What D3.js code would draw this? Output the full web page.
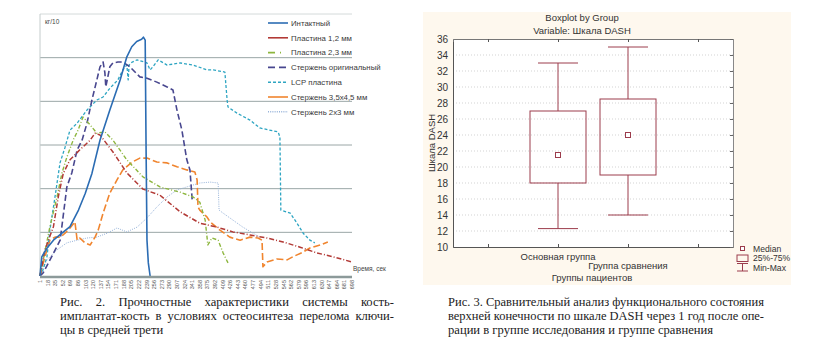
<!DOCTYPE html>
<html>
<head>
<meta charset="utf-8">
<script src="https://cdn.jsdelivr.net/npm/d3@7"></script>
<style>
  body { margin: 0; background: #fff; }
  svg { display: block; }
</style>
</head>
<body>
<div id="figure"></div>
<script>
// ---- left chart data: [time, load] ----
var intact = [[1,0],[5,4.4],[16,6.3],[31,8.2],[50,9.8],[68,11.3],[87,15.1],[102,18.9],[117,23.5],[135,31.1],[157,38],[180,44.9],[195,50.2],[206,52.5],[217,53.7],[228,54.2],[232,54.7],[236,54],[238,28.9],[240,8.2],[243,3],[247,0]];
var plate12 = [[1,0],[12,6],[31,11.3],[42,18.2],[53,23.5],[68,26.6],[90,28.9],[113,31.1],[124,32.7],[135,32.3],[164,28.4],[195,23.6],[231,19.9],[269,18.5],[314,14.7],[358,12.1],[396,11.2],[432,10.1],[470,9.4],[508,8.7],[544,7.8],[582,6.6],[619,5.3],[656,4.4],[698,3.2]];
var plate23 = [[1,0],[23,11.2],[39,18.1],[50,23.6],[61,27.2],[75,31.1],[86,33.4],[97,36.4],[113,34.6],[128,32.7],[146,33],[164,31.1],[195,26.6],[231,22.7],[269,20.4],[314,19.2],[343,18.1],[358,16.9],[370,12.8],[376,7.1],[385,8.7],[399,8.2],[410,5.3],[421,3]];
var rodOrig = [[1,0],[8,0.7],[30,5],[46,8.2],[61,20.4],[72,23.6],[84,28.9],[95,31.1],[106,35],[117,40.3],[128,44.9],[135,47.9],[142,49],[146,46.5],[148,43.3],[157,47.9],[164,48.8],[175,49],[186,49],[202,47.9],[224,45.6],[240,45.3],[262,44.4],[285,43.3],[298,42.6],[307,38],[318,33.4],[329,26.6],[336,24.3],[341,17.4]];
var lcp = [[1,0],[5.5,0.7],[16.6,4.4],[23,10.5],[34.5,18.1],[45.7,25.9],[57,29.5],[68,33.4],[84,35],[106,38],[128,40.3],[142,41],[157,43],[175,44.9],[186,47.2],[195,48.3],[198,44.9],[200,48.3],[207,49],[218,49.5],[240,48.8],[247,47.2],[253,47.9],[265,49.5],[285,48.3],[314,48.8],[343,48.3],[374,47.2],[388,47.2],[414,46.7],[419,40.3],[421,38.7],[441,37.3],[470,35.7],[492,33.9],[533,33],[537,31.8],[539,15.1],[560,14.4],[575,12.1],[589,9.8],[604,8.2],[615,7.6]];
var rod3545 = [[1,0.2],[12,4.4],[23,8.2],[34.5,8.9],[46,8.9],[57,9.8],[68,11],[79,12.4],[84,8.2],[90,8.7],[101.5,7.6],[113,7.1],[124,8.9],[131,10.5],[142,14.4],[157,19],[173,22],[186,24.3],[207,26.1],[224,27],[240,27],[262,26.1],[285,25.9],[307,25],[329,24.3],[347,23.8],[352,22],[354,15.8],[358,15.1],[374,13.5],[381,12.4],[403,10.5],[425,8.9],[448,8.2],[470,8.9],[488,8.7],[497,8.2],[499,2.1],[508,3.2],[530,3.9],[553,3.7],[566,4.4],[589,5.5],[604,6.4],[627,7.1],[644,7.8]];
var rod23 = [[1,0.2],[16.6,3.7],[39,6],[61,7.6],[84,8.2],[106,8.7],[128,8.9],[151,9.8],[173,11],[195,10.1],[218,11.2],[240,13.3],[262,15.8],[285,18.1],[307,19.7],[329,20.4],[358,21.3],[381,21.5],[399,21.3],[401,15.1],[410,14.4],[432,12.8],[454,11.2],[477,9.8],[492,8.9]];

var seriesNames = ["Интактный", "Пластина 1,2 мм", "Пластина 2,3 мм", "Стержень оригинальный", "LCP пластина", "Стержень 3,5х4,5 мм", "Стержень 2х3 мм"];
var timeTicks = [1,18,35,52,69,86,103,120,137,154,171,188,205,222,239,256,273,290,307,324,341,358,375,392,409,426,443,460,477,494,511,528,545,562,579,596,613,630,647,664,681,698];
var loadGrid = [0,10,20,30,40,50,60];

// ---- right chart data ----
var groups = ["Основная группа", "Группа сравнения"];
var groupPos = [2, 3];
var mins = [12.3, 14];
var q1s = [18, 19];
var medians = [21.5, 24];
var q3s = [27, 28.5];
var maxs = [33, 35];
var dashTicks = [10,12,14,16,18,20,22,24,26,28,30,32,34,36];

var w = 830, h = 346;
var svg = d3.select("#figure").append("svg").attr("width", w).attr("height", h);
svg.append("rect").attr("width", w).attr("height", h).attr("fill", "#fff");

// ================= left chart =================
var xScale = d3.scaleLinear().domain([1, 698]).range([40, 352]);
var yScale = d3.scaleLinear().domain([0, 60]).range([276, 14]);

var left = svg.append("g");
left.selectAll(".grid").data(loadGrid.slice(1)).enter().append("line")
    .attr("x1", 40).attr("x2", 352)
    .attr("y1", d => yScale(d)).attr("y2", d => yScale(d))
    .attr("stroke", (d, i) => i == loadGrid.length - 2 ? "#d4dada" : "#9aa6a6")
    .attr("stroke-width", 1);
left.append("line").attr("x1", 40).attr("x2", 40).attr("y1", 14).attr("y2", 276)
    .attr("stroke", "#c4cccc");

var styles = [
    { color: "#2b6cb3", dash: null, width: 1.6 },
    { color: "#b23a36", dash: "5,2,1,2", width: 1.5 },
    { color: "#8db63e", dash: "4,2,1,2", width: 1.4 },
    { color: "#48478f", dash: "6,3", width: 1.6 },
    { color: "#2ea5c2", dash: "3,2", width: 1.3 },
    { color: "#f0852f", dash: "7,3", width: 1.6 },
    { color: "#98b4da", dash: "1,1.2", width: 1 }
];
// legend swatches use their own dash look
var legendDash = [null, null, "7,5,1,7", "7,4", "3,2", null, "1,1.2"];
var allSeries = [intact, plate12, plate23, rodOrig, lcp, rod3545, rod23];

var line = d3.line().x(d => xScale(d[0])).y(d => yScale(d[1]));
// draw back to front so the intact curve stays on top
for (var i = allSeries.length - 1; i >= 0; i--) {
    left.append("path")
        .datum(allSeries[i])
        .attr("fill", "none")
        .attr("stroke", styles[i].color)
        .attr("stroke-width", styles[i].width)
        .attr("stroke-dasharray", styles[i].dash)
        .attr("stroke-linejoin", "round")
        .attr("d", line);
}

// x axis bar + rotated labels
left.append("line").attr("x1", 40).attr("x2", 352).attr("y1", 277).attr("y2", 277)
    .attr("stroke", "#8c9a9a").attr("stroke-width", 2.5);
left.selectAll(".tl").data(timeTicks).enter().append("text")
    .attr("transform", d => "translate(" + (xScale(d) + 2) + ",280) rotate(-90)")
    .attr("text-anchor", "end")
    .style("font-family", "Liberation Sans, Arial, sans-serif")
    .style("font-size", "5.5px")
    .attr("fill", "#555")
    .text(d => d);

left.append("text").attr("x", 45).attr("y", 24)
    .style("font-family", "Liberation Sans, Arial, sans-serif").style("font-size", "6.5px")
    .attr("fill", "#444").text("кг/10");
left.append("text").attr("x", 353).attr("y", 271)
    .style("font-family", "Liberation Sans, Arial, sans-serif").style("font-size", "6.5px")
    .attr("fill", "#444").text("Время, сек");

// legend
var lg = left.append("g");
seriesNames.forEach(function(name, i) {
    var ly = 23 + i * 14.8;
    lg.append("line").attr("x1", 268).attr("x2", 288).attr("y1", ly).attr("y2", ly)
        .attr("stroke", styles[i].color).attr("stroke-width", 1.6)
        .attr("stroke-dasharray", legendDash[i]);
    lg.append("text").attr("x", 291).attr("y", ly + 2.8)
        .style("font-family", "Liberation Sans, Arial, sans-serif").style("font-size", "7.8px")
        .attr("fill", "#3a3a3a").text(name);
});

// ================= right chart =================
var right = svg.append("g");
right.append("rect").attr("x", 423).attr("y", 12).attr("width", 368).attr("height", 273).attr("fill", "#fef8ee");

var bx = d3.scaleLinear().domain([0.5, 4.5]).range([453, 733]);
var by = d3.scaleLinear().domain([10, 36]).range([247, 39]);

right.append("rect").attr("x", 453).attr("y", 39).attr("width", 280).attr("height", 208).attr("fill", "#fff");
right.selectAll(".bg").data(dashTicks.slice(1, -1)).enter().append("line")
    .attr("x1", 453).attr("x2", 733).attr("y1", d => by(d)).attr("y2", d => by(d))
    .attr("stroke", "#c8c8c8").attr("stroke-width", 0.8).attr("stroke-dasharray", "1,2");

var rfont = "Liberation Sans, Arial, sans-serif";
var yAxis = d3.axisLeft(by).tickValues(dashTicks).tickSize(0).tickPadding(5);
var yg = right.append("g").attr("transform", "translate(453,0)").call(yAxis);
yg.select(".domain").attr("stroke", "#555");
yg.selectAll("text").style("font-family", rfont).style("font-size", "10px").attr("fill", "#333");

var xAxis = d3.axisBottom(bx).tickValues([1, 2, 3, 4]).tickSize(-3).tickFormat("");
var xg = right.append("g").attr("transform", "translate(0,247)").call(xAxis);
xg.select(".domain").attr("stroke", "#555");
xg.selectAll(".tick line").attr("stroke", "#555");
var xTop = d3.axisTop(bx).tickValues([1, 2, 3, 4]).tickSize(-3).tickFormat("");
var xtg = right.append("g").attr("transform", "translate(0,39)").call(xTop);
xtg.select(".domain").attr("stroke", "#777");
xtg.selectAll(".tick line").attr("stroke", "#555");
var yRight = d3.axisRight(by).tickValues(dashTicks).tickSize(-3).tickFormat("");
var yrg = right.append("g").attr("transform", "translate(733,0)").call(yRight);
yrg.select(".domain").attr("stroke", "#888");
yrg.selectAll(".tick line").attr("stroke", "#666");

var boxColor = "#9c3c4c";
var bw = 28, cw = 20;
groups.forEach(function(g, i) {
    var cx = bx(groupPos[i]);
    right.append("line").attr("x1", cx).attr("x2", cx).attr("y1", by(maxs[i])).attr("y2", by(q3s[i])).attr("stroke", boxColor);
    right.append("line").attr("x1", cx).attr("x2", cx).attr("y1", by(q1s[i])).attr("y2", by(mins[i])).attr("stroke", boxColor);
    right.append("line").attr("x1", cx - cw).attr("x2", cx + cw).attr("y1", by(maxs[i])).attr("y2", by(maxs[i])).attr("stroke", boxColor);
    right.append("line").attr("x1", cx - cw).attr("x2", cx + cw).attr("y1", by(mins[i])).attr("y2", by(mins[i])).attr("stroke", boxColor);
    right.append("rect").attr("x", cx - bw).attr("y", by(q3s[i])).attr("width", bw * 2)
        .attr("height", by(q1s[i]) - by(q3s[i])).attr("fill", "none").attr("stroke", boxColor);
    right.append("rect").attr("x", cx - 2.5).attr("y", by(medians[i]) - 2.5).attr("width", 5).attr("height", 5)
        .attr("fill", "#fff").attr("stroke", boxColor);
});

// group labels (staggered as in the original)
right.append("text").attr("x", bx(groupPos[0])).attr("y", 260).attr("text-anchor", "middle")
    .style("font-family", rfont).style("font-size", "9.5px").attr("fill", "#333").text(groups[0]);
right.append("text").attr("x", bx(groupPos[1])).attr("y", 269).attr("text-anchor", "middle")
    .style("font-family", rfont).style("font-size", "9.5px").attr("fill", "#333").text(groups[1]);
right.append("text").attr("x", 592).attr("y", 281).attr("text-anchor", "middle")
    .style("font-family", rfont).style("font-size", "9.5px").attr("fill", "#333").text("Группы пациентов");
right.append("text").attr("transform", "translate(435,143) rotate(-90)").attr("text-anchor", "middle")
    .style("font-family", rfont).style("font-size", "9.5px").attr("fill", "#333").text("Шкала DASH");
right.append("text").attr("x", 582).attr("y", 21).attr("text-anchor", "middle")
    .style("font-family", rfont).style("font-size", "9.5px").attr("fill", "#333").text("Boxplot by Group");
right.append("text").attr("x", 582).attr("y", 34).attr("text-anchor", "middle")
    .style("font-family", rfont).style("font-size", "9.5px").attr("fill", "#333").text("Variable: Шкала DASH");

// legend
right.append("rect").attr("x", 740.5).attr("y", 246.5).attr("width", 4).attr("height", 4).attr("fill", "#fff").attr("stroke", boxColor);
right.append("rect").attr("x", 737).attr("y", 255).attr("width", 11).attr("height", 6.5).attr("fill", "none").attr("stroke", boxColor);
right.append("line").attr("x1", 742.5).attr("x2", 742.5).attr("y1", 263.5).attr("y2", 271).attr("stroke", boxColor);
right.append("line").attr("x1", 737).attr("x2", 748).attr("y1", 263.5).attr("y2", 263.5).attr("stroke", boxColor);
right.append("line").attr("x1", 737).attr("x2", 748).attr("y1", 271).attr("y2", 271).attr("stroke", boxColor);
[["Median", 251.5], ["25%-75%", 261], ["Min-Max", 270.5]].forEach(function(d) {
    right.append("text").attr("x", 753).attr("y", d[1])
        .style("font-family", rfont).style("font-size", "8.6px").attr("fill", "#333").text(d[0]);
});

// ================= captions =================
function caption(lines, x, y0, width, size) {
    lines.forEach(function(l, i) {
        var t = svg.append("text").attr("x", x).attr("y", y0 + i * 14)
            .style("font-family", "Liberation Serif, Times New Roman, serif")
            .style("font-size", size + "px").attr("fill", "#222").text(l.text);
        if (l.justify) {
            var len = t.node().getComputedTextLength();
            var spaces = l.text.split(" ").length - 1;
            var extra = (width - len) / spaces;
            if (extra > 0) t.attr("word-spacing", extra);
            else t.attr("textLength", width).attr("lengthAdjust", "spacingAndGlyphs");
        }
    });
}
caption([
    { text: "Рис. 2. Прочностные характеристики системы кость-", justify: true },
    { text: "имплантат-кость в условиях остеосинтеза перелома ключи-", justify: true },
    { text: "цы в средней трети", justify: false }
], 60, 306, 334, 12.6);
caption([
    { text: "Рис. 3. Сравнительный анализ функционального состояния", justify: true },
    { text: "верхней конечности по шкале DASH через 1 год после опе-", justify: true },
    { text: "рации в группе исследования и группе сравнения", justify: false }
], 448, 306, 316, 12.6);
</script>
</body>
</html>
